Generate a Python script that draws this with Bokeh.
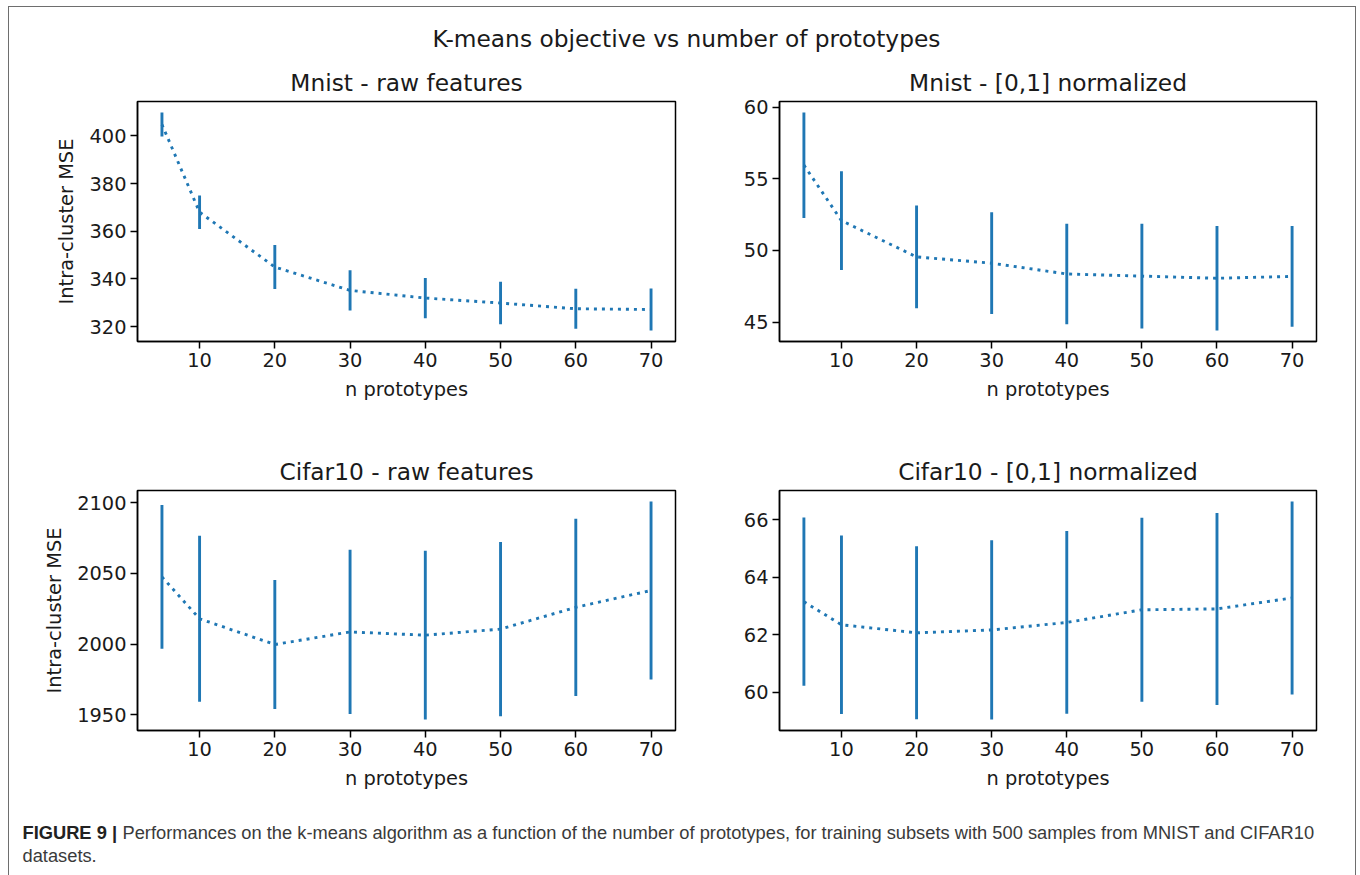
from bokeh.plotting import figure
from bokeh.layouts import column, row
from bokeh.models import FixedTicker, Range1d, ColumnDataSource, Label
from bokeh.embed import file_html
from bokeh.resources import INLINE

# ---------------- data ----------------
n_prototypes = [5, 10, 20, 30, 40, 50, 60, 70]
x_ticks = [10, 20, 30, 40, 50, 60, 70]

mnist_raw_mean = [404.8, 368.0, 345.0, 335.2, 332.0, 329.9, 327.5, 327.2]
mnist_raw_err = [5.05, 7.0, 9.25, 8.45, 8.45, 8.9, 8.35, 8.85]
mnist_raw_yticks = [320, 340, 360, 380, 400]

mnist_norm_mean = [55.95, 52.08, 49.55, 49.11, 48.36, 48.21, 48.06, 48.19]
mnist_norm_err = [3.68, 3.45, 3.58, 3.55, 3.50, 3.65, 3.65, 3.52]
mnist_norm_yticks = [45, 50, 55, 60]

cifar_raw_mean = [2047.6, 2018.0, 1999.8, 2008.7, 2006.4, 2010.7, 2026.1, 2038.0]
cifar_raw_err = [50.75, 58.6, 45.6, 58.0, 59.65, 61.65, 62.6, 62.95]
cifar_raw_yticks = [1950, 2000, 2050, 2100]

cifar_norm_mean = [63.15, 62.35, 62.07, 62.17, 62.43, 62.87, 62.90, 63.28]
cifar_norm_err = [2.92, 3.10, 3.00, 3.11, 3.17, 3.19, 3.33, 3.35]
cifar_norm_yticks = [60, 62, 64, 66]

suptitle = "K-means objective vs number of prototypes"
titles = ["Mnist - raw features", "Mnist - [0,1] normalized",
          "Cifar10 - raw features", "Cifar10 - [0,1] normalized"]
x_label = "n prototypes"
y_label = "Intra-cluster MSE"
caption_bold = "FIGURE 9 |"
caption_text = ("Performances on the k-means algorithm as a function of the number of prototypes, "
                "for training subsets with 500 samples from MNIST and CIFAR10")
caption_text2 = "datasets."

BLUE = "#1f77b4"
FONT = "DejaVu Sans"
CAP_FONT = "Liberation Sans"
TICK_FS = "19.4px"
TITLE_FS = "23.3px"
FH = 240
W = 1346


def make_panel(title, means, errs, yticks, ylabel, fw, left, right, top, bottom):
    lo = min(m - e for m, e in zip(means, errs))
    hi = max(m + e for m, e in zip(means, errs))
    ypad = 0.05 * (hi - lo)
    xmin, xmax = min(n_prototypes), max(n_prototypes)
    xpad = 0.05 * (xmax - xmin)
    p = figure(title=title, frame_width=fw, frame_height=FH,
               min_border_left=left, min_border_right=right,
               min_border_top=top, min_border_bottom=bottom,
               x_range=Range1d(xmin - xpad, xmax + xpad),
               y_range=Range1d(lo - ypad, hi + ypad),
               toolbar_location=None, output_backend="svg",
               background_fill_color="white", border_fill_color="white")
    src = ColumnDataSource(dict(
        x=n_prototypes, m=means,
        lo=[m - e for m, e in zip(means, errs)],
        hi=[m + e for m, e in zip(means, errs)]))
    p.line("x", "m", source=src, line_color=BLUE, line_width=2.9, line_dash="3 5")
    p.segment(x0="x", y0="lo", x1="x", y1="hi", source=src, line_color=BLUE, line_width=2.9)
    p.xgrid.visible = False
    p.ygrid.visible = False
    p.outline_line_color = "black"
    p.outline_line_width = 1.5
    p.outline_line_alpha = 1
    p.xaxis.ticker = FixedTicker(ticks=x_ticks)
    p.yaxis.ticker = FixedTicker(ticks=yticks)
    for ax in (p.xaxis[0], p.yaxis[0]):
        ax.axis_line_color = "black"
        ax.axis_line_width = 1.5
        ax.major_tick_line_color = "black"
        ax.major_tick_line_width = 1.5
        ax.major_tick_out = 7
        ax.major_tick_in = 0
        ax.minor_tick_out = 0
        ax.minor_tick_in = 0
        ax.minor_tick_line_color = None
        ax.major_label_text_font = FONT
        ax.major_label_text_font_size = TICK_FS
        ax.major_label_text_color = "#1a1a1a"
        ax.major_label_standoff = 4
        ax.axis_label_text_font = FONT
        ax.axis_label_text_font_size = TICK_FS
        ax.axis_label_text_font_style = "normal"
        ax.axis_label_text_color = "#1a1a1a"
    p.xaxis.axis_label = x_label
    p.xaxis.axis_label_standoff = 8
    if ylabel:
        p.yaxis.axis_label = ylabel
        p.yaxis.axis_label_standoff = 8
    p.title.text_font = FONT
    p.title.text_font_size = TITLE_FS
    p.title.text_font_style = "normal"
    p.title.text_color = "#1a1a1a"
    p.title.align = "center"
    p.title.standoff = 12
    return p


def blank(height):
    f = figure(width=W, height=height, x_range=Range1d(0, W), y_range=Range1d(height, 0),
               toolbar_location=None, output_backend="svg", min_border=0,
               x_axis_location=None, y_axis_location=None,
               background_fill_color="white", border_fill_color="white")
    f.outline_line_color = None
    f.xgrid.visible = False
    f.ygrid.visible = False
    return f


# header with the overall title
hdr = blank(53)
hdr.add_layout(Label(x=677, y=31, text=suptitle, text_align="center", text_baseline="middle",
                     text_font=FONT, text_font_size=TITLE_FS, text_color="#1a1a1a"))

pA = make_panel(titles[0], mnist_raw_mean, mnist_raw_err, mnist_raw_yticks, y_label,
                538, 128, 25, 40, 108)
pB = make_panel(titles[1], mnist_norm_mean, mnist_norm_err, mnist_norm_yticks, None,
                537, 79, 39, 40, 108)
pC = make_panel(titles[2], cifar_raw_mean, cifar_raw_err, cifar_raw_yticks, y_label,
                538, 128, 25, 40, 65)
pD = make_panel(titles[3], cifar_norm_mean, cifar_norm_err, cifar_norm_yticks, None,
                537, 79, 39, 40, 65)

# caption
cap = blank(90)
cap.add_layout(Label(x=13, y=37, text=caption_bold, text_align="left", text_baseline="middle",
                     text_font=CAP_FONT, text_font_size="18.3px", text_font_style="bold",
                     text_color="#222222"))
cap.add_layout(Label(x=113, y=37, text=caption_text, text_align="left", text_baseline="middle",
                     text_font=CAP_FONT, text_font_size="18.3px", text_color="#3a3a3a"))
cap.add_layout(Label(x=13, y=60, text=caption_text2, text_align="left", text_baseline="middle",
                     text_font=CAP_FONT, text_font_size="18.3px", text_color="#3a3a3a"))

layout = column(hdr, row(pA, pB, spacing=0), row(pC, pD, spacing=0), cap,
                spacing=0, margin=(6, 0, 0, 8),
                styles={"border": "1.3px solid #6e6e6e", "background": "white"})

html = file_html(layout, INLINE, title="plot")
open("out.html", "w").write(html)
